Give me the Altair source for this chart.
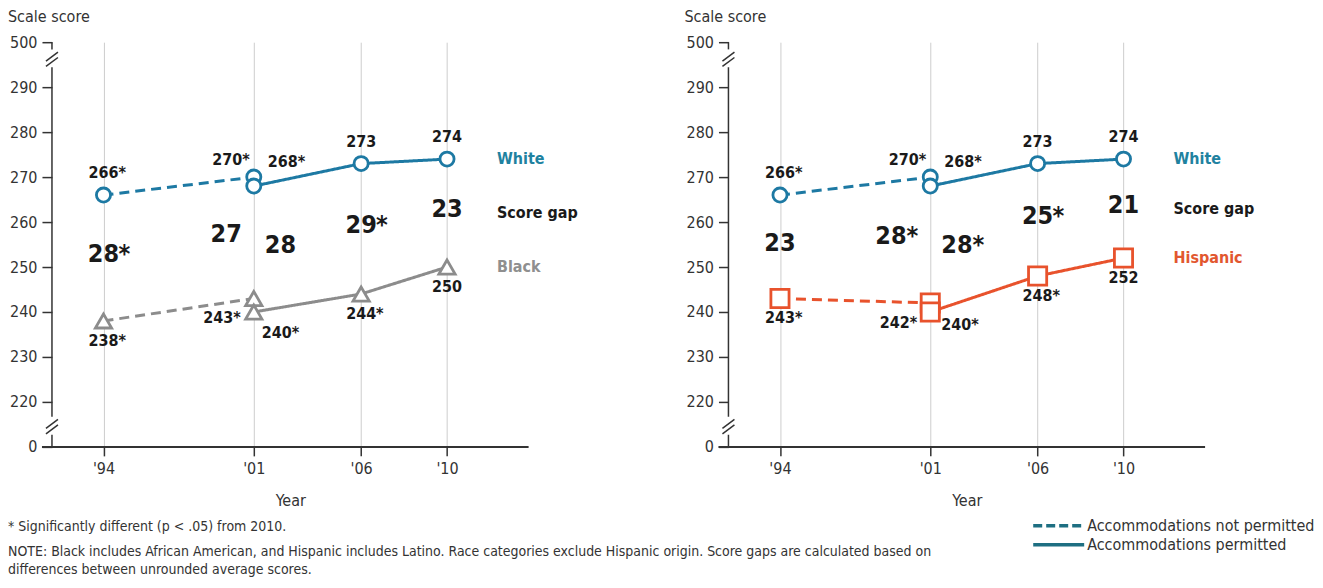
import altair as alt
import pandas as pd

# ---------------- data ----------------
years_np = [1994, 2001]          # accommodations not permitted
years_p = [2001, 2006, 2010]     # accommodations permitted
x_tick_years = [1994, 2001, 2006, 2010]

white_np = [266, 270]
white_p = [268, 273, 274]
white_np_sig = [True, True]
white_p_sig = [True, False, False]

black_np = [238, 243]
black_p = [240, 244, 250]
black_np_sig = [True, True]
black_p_sig = [True, True, False]

hisp_np = [243, 242]
hisp_p = [240, 248, 252]
hisp_np_sig = [True, True]
hisp_p_sig = [True, True, False]

gap_wb_np = ["28*", "27"]
gap_wb_p = ["28", "29*", "23"]
gap_wh_np = ["23", "28*"]
gap_wh_p = ["28*", "25*", "21"]

y_tick_values = [210, 220, 230, 240, 250, 260, 270, 280, 290, 300]
y_tick_labels = ["0", "220", "230", "240", "250", "260", "270", "280", "290", "500"]

note_lines = [
    "* Significantly different (p < .05) from 2010.",
    "NOTE: Black includes African American, and Hispanic includes Latino. Race categories exclude Hispanic origin. Score gaps are calculated based on",
    "differences between unrounded average scores.",
]
legend_labels = ["Accommodations not permitted", "Accommodations permitted"]

# ---------------- style ----------------
FONT = "'Liberation Sans Narrow', 'Arial Narrow', 'DejaVu Sans Condensed', Roboto, sans-serif"
SERIES = ["White", "Black", "Hispanic"]
SERIES_C = ["#1d79a3", "#8c8c8c", "#e8522c"]
SERIES_SHAPE = ["circle", "triangle-up", "square"]
SERIES_SIZE = [200, 330, 230]
TXT = "#1a1a1a"
AX = "#333333"
W, H = 477, 405

XS = alt.Scale(domain=[1991.6, 2013.8], nice=False, zero=False)
YS = alt.Scale(domain=[210, 300], nice=False, zero=False)

label_map = {v: l for v, l in zip(y_tick_values, y_tick_labels) if str(v) != l}
y_label_expr = "".join(f"datum.value == {v} ? '{l}' : " for v, l in label_map.items()) + "datum.label"

XAXIS = alt.Axis(values=x_tick_years, labelExpr="\"'\" + slice(toString(datum.value), 2)",
                 domain=False, grid=True, gridColor="#cdcdcd", gridWidth=1,
                 ticks=True, tickSize=9, tickWidth=1.5, tickColor=AX,
                 labelFont=FONT, labelFontSize=16, labelColor=AX, labelPadding=5,
                 labelFlush=False, title="Year", titleFont=FONT, titleFontSize=16,
                 titleFontWeight="normal", titleColor=AX, titlePadding=16)
YAXIS = alt.Axis(values=y_tick_values, labelExpr=y_label_expr, domain=False, grid=False,
                 ticks=True, tickSize=10, tickWidth=1.5, tickColor=AX,
                 labelFont=FONT, labelFontSize=16, labelColor=AX, labelPadding=5,
                 title=None)


def X_():
    return alt.X("year:Q", scale=XS, axis=XAXIS, title="Year")


def Y_(field):
    return alt.Y(f"{field}:Q", scale=YS, axis=YAXIS, title=None)


def series_rows(name, role, np_vals, p_vals, np_sig, p_sig):
    rows = []
    for phase, yrs, vals, sigs in (("np", years_np, np_vals, np_sig), ("p", years_p, p_vals, p_sig)):
        for yr, v, s in zip(yrs, vals, sigs):
            rows.append({"series": name, "role": role, "phase": phase, "year": yr,
                         "score": v, "num": str(v), "star": "*" if s else "",
                         "label": f"{v}{'*' if s else ''}"})
    return rows


def gap_rows(up_np, up_p, lo_np, lo_p, g_np, g_p):
    rows = []
    for phase, yrs, u, l, g in (("np", years_np, up_np, lo_np, g_np), ("p", years_p, up_p, lo_p, g_p)):
        for yr, a, b, lab in zip(yrs, u, l, g):
            rows.append({"phase": phase, "year": yr, "mid": (a + b) / 2, "label": lab,
                         "num": lab.rstrip("*"), "star": "*" if lab.endswith("*") else ""})
    return rows


def text_layer(df, filt, field, yfield, align, dx, dy, size, weight="bold", color=TXT):
    return alt.Chart(df).transform_filter(filt).mark_text(
        align=align, baseline="middle", dx=dx, dy=dy, fontSize=size, fontWeight=weight,
        color=color, font=FONT
    ).encode(x=X_(), y=Y_(yfield), text=f"{field}:N")


def const_text(text, x, y, size, color=AX, weight="normal", align="left", baseline="middle"):
    return alt.Chart(pd.DataFrame({"t": [text]})).mark_text(
        align=align, baseline=baseline, fontSize=size, fontWeight=weight, color=color, font=FONT
    ).encode(x=alt.value(x), y=alt.value(y), text="t:N")


def panel(lower_name, lower_np, lower_p, lower_np_sig, lower_p_sig, g_np, g_p,
          lo_p01, footnote, legend):
    pts = pd.DataFrame(series_rows("White", "upper", white_np, white_p, white_np_sig, white_p_sig)
                       + series_rows(lower_name, "lower", lower_np, lower_p, lower_np_sig, lower_p_sig))
    gaps = pd.DataFrame(gap_rows(white_np, white_p, lower_np, lower_p, g_np, g_p))
    label_color = "#8f8f8f" if lower_name == "Black" else "#e2572f"

    lines = alt.Chart(pts).mark_line(strokeWidth=3).encode(
        X_(), Y_("score"),
        color=alt.Color("series:N", scale=alt.Scale(domain=SERIES, range=SERIES_C), legend=None),
        strokeDash=alt.StrokeDash("phase:N", scale=alt.Scale(domain=["np", "p"], range=[[10, 6], [1, 0]]), legend=None),
    )
    points = alt.Chart(pts).mark_point(fill="white", fillOpacity=1, opacity=1, strokeWidth=2.8).encode(
        X_(), Y_("score"),
        stroke=alt.Stroke("series:N", scale=alt.Scale(domain=SERIES, range=SERIES_C), legend=None),
        shape=alt.Shape("series:N", scale=alt.Scale(domain=SERIES, range=SERIES_SHAPE), legend=None),
        size=alt.Size("series:N", scale=alt.Scale(domain=SERIES, range=SERIES_SIZE), legend=None),
        order=alt.Order("phase:N"),
    )

    # axis line with breaks
    seg = pd.DataFrame({"y1": [300, 294.4, 212.7], "y2": [298.4, 216.7, 210]})
    yline = alt.Chart(seg).mark_rule(color=AX, strokeWidth=1.5).encode(
        x=alt.value(0), y=Y_("y1"), y2="y2:Q")
    sl = pd.DataFrame({"a": [295.6, 296.8, 213.9, 215.1]})
    slashes = alt.Chart(sl).transform_calculate(b1="datum.a - 1.0", b2="datum.a + 1.0").mark_rule(
        color=AX, strokeWidth=1.5).encode(
        x=alt.value(-6), x2=alt.value(6), y=Y_("b1"), y2="b2:Q")
    base = alt.Chart(pd.DataFrame({"t": [0]})).mark_rule(color=AX, strokeWidth=2).encode(
        x=alt.value(-10), x2=alt.value(W), y=alt.value(H))

    up = "datum.role == 'upper'"
    lo = "datum.role == 'lower'"
    VS = 16
    GS = 25
    labels = [
        text_layer(pts, f"{up} && datum.year != 2001", "num", "score", "center", 0, -22, VS),
        text_layer(pts, f"{up} && datum.year != 2001 && datum.star != ''", "star", "score", "left", 15, -22, VS),
        text_layer(pts, f"{up} && datum.year == 2001 && datum.phase == 'np'", "label", "score", "right", -4, -17, VS),
        text_layer(pts, f"{up} && datum.year == 2001 && datum.phase == 'p'", "label", "score", "left", 14, -24, VS),
        text_layer(pts, f"{lo} && datum.year != 2001", "num", "score", "center", 0, 20, VS),
        text_layer(pts, f"{lo} && datum.year != 2001 && datum.star != ''", "star", "score", "left", 15, 20, VS),
        text_layer(pts, f"{lo} && datum.year == 2001 && datum.phase == 'np'", "label", "score", "right", -13, 20, VS),
        text_layer(pts, f"{lo} && datum.year == 2001 && datum.phase == 'p'", "label", "score", "left", lo_p01[0], lo_p01[1], VS),
        # gaps
        text_layer(gaps, "datum.year != 2001", "num", "mid", "center", 0, -4, GS),
        text_layer(gaps, "datum.year != 2001 && datum.star != ''", "star", "mid", "left", 15, -4, GS),
        text_layer(gaps, "datum.year == 2001 && datum.phase == 'np'", "label", "mid", "right", -12, -4, GS),
        text_layer(gaps, "datum.year == 2001 && datum.phase == 'p'", "label", "mid", "left", 11, -4, GS),
        # series labels
        text_layer(pts, "datum.series == 'White' && datum.year == 2010", "series", "score", "left", 50, 0, 16, "bold", "#1f82a0"),
        text_layer(gaps.assign(name="Score gap"), "datum.year == 2010", "name", "mid", "left", 50, 0, 16, "bold", TXT),
        text_layer(pts, f"datum.series == '{lower_name}' && datum.year == 2010", "series", "score", "left", 50, 0, 16,
                   "bold", label_color),
    ]
    extra = [const_text("Scale score", -44, -25, 16)]
    if footnote:
        for t, yy in zip(note_lines, [485, 510, 528]):
            extra.append(const_text(t, -44, yy, 14))
    if legend:
        dsh = [[9, 4], [1, 0]]
        for lab, yy, d in zip(legend_labels, [484, 503], dsh):
            extra.append(alt.Chart(pd.DataFrame({"t": [0]})).mark_rule(
                color="#1e6f82", strokeWidth=3.5, strokeDash=d).encode(
                x=alt.value(305), x2=alt.value(356), y=alt.value(yy)))
            extra.append(const_text(lab, 359, yy, 16))

    return alt.layer(lines, yline, slashes, base, points, *labels, *extra).properties(width=W, height=H)


left = panel("Black", black_np, black_p, black_np_sig, black_p_sig, gap_wb_np, gap_wb_p,
             (8, 21), True, False)
right = panel("Hispanic", hisp_np, hisp_p, hisp_np_sig, hisp_p_sig, gap_wh_np, gap_wh_p,
              (11, 13), False, True)

chart = alt.hconcat(left, right, spacing=200, bounds="flush").properties(
    padding={"top": 1, "left": 0, "right": 0, "bottom": 0}).configure_view(stroke=None)

chart.save("out.html", embed_options={"renderer": "svg", "actions": False})
